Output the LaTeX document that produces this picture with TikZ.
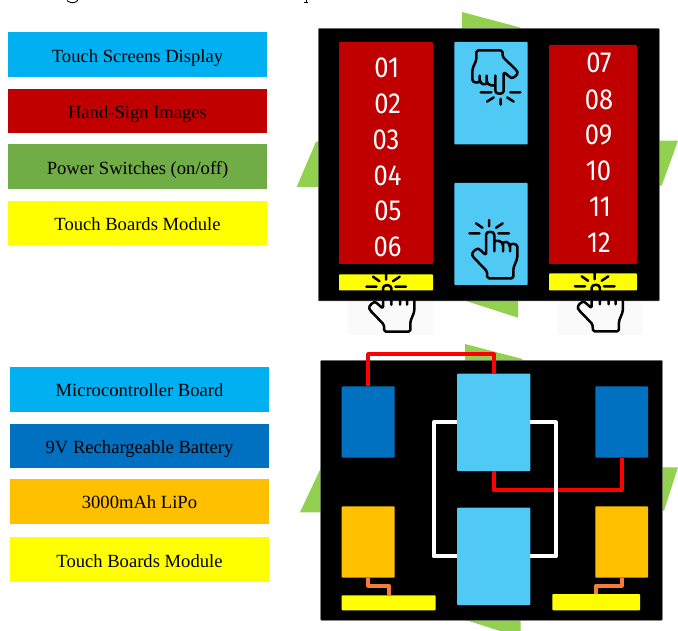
\documentclass[tikz,border=0pt]{standalone}
\usepackage{fontspec}
\setmainfont{Liberation Serif}
\newfontfamily\digitfont{Fira Sans}
\definecolor{skyc}{RGB}{0,176,240}
\definecolor{deepred}{RGB}{192,0,0}
\definecolor{leaf}{RGB}{112,173,71}
\definecolor{lime}{RGB}{146,208,80}
\definecolor{scr}{RGB}{80,201,245}
\definecolor{batt}{RGB}{0,112,192}
\definecolor{lipo}{RGB}{255,192,0}
\definecolor{wireo}{RGB}{244,123,58}
\definecolor{yel}{RGB}{255,255,0}
\definecolor{wirer}{RGB}{255,0,0}
\tikzset{
  legend/.style={draw=none,inner sep=0pt,outer sep=0pt,minimum width=259pt,minimum height=44.5pt,font=\fontsize{18.6}{20}\selectfont,text=black,text height=15pt,text depth=0pt},
  part/.style={inner sep=0pt,outer sep=0pt,rounded corners=.8pt},
  panel/.style={fill=black,draw=black!55,line width=.5pt,rounded corners=.8pt},
  wingfill/.style={fill=lime},
  num/.style={text=white,inner sep=0pt,font=\digitfont\fontsize{29}{30}\selectfont},
  wire/.style={line width=4pt,line join=round},
  handicon/.pic={
    \draw[black,line width=2.5pt,line cap=round,line join=round,rounded corners=1.6pt]
      (0,-13.3)--(0,-7) (-13,-10)--(-6.5,-5.5) (13.7,-10)--(7,-5.5)
      (-19.7,0)--(-9.5,0) (9.3,0)--(20,0)
      (5.3,18)--(5.3,3) .. controls (5.3,-2.5) and (-3,-2.5) .. (-3,3)
      --(-3,22)--(-9,16.5) .. controls (-12,14.5) and (-18,19) .. (-16,23.5)
      --(-2,38)--(-1.7,45)--(24.3,45)--(24.3,35)--(28.3,25)--(28.3,15)
      .. controls (28.3,10) and (21,9.5) .. (21,14)--(21,18)
      (21,14) .. controls (21,7.5) and (14,7.5) .. (14,12)--(14,18)
      (14,12) .. controls (14,7) and (5.3,6) .. (5.3,9);
  }
}
\begin{document}
\begin{tikzpicture}[x=1pt,y=-1pt]
\useasboundingbox (0,0) rectangle (678,631);
% cut-off line above
\draw[black,line width=.9pt] (67,.6) .. controls (70,3.6) and (76,3.4) .. (78,0);
\draw[black,line width=1pt] (306,0)--(306,2.6) (304.3,2.8)--(307.8,2.8);
% legends
\node[legend,fill=skyc] (l1) at (137.5,54.75) {Touch Screens Display};
\node[legend,fill=deepred] (l2) at (137.5,111.25) {Hand-Sign Images};
\node[legend,fill=leaf] (l3) at (137.5,166.75) {Power Switches (on/off)};
\node[legend,fill=yel] (l4) at (137.5,223.25) {Touch Boards Module};
\node[legend,fill=skyc] (l5) at (139.5,389.25) {Microcontroller Board};
\node[legend,fill=batt] (l6) at (139.5,446) {9V Rechargeable Battery};
\node[legend,fill=lipo] (l7) at (139.5,501.25) {3000mAh LiPo};
\node[legend,fill=yel] (l8) at (139.5,559.5) {Touch Boards Module};
% upper panel
\fill[wingfill] (462,12)--(520,27.5)--(522,30)--(462,30)--cycle;
\fill[wingfill] (316,141.7)--(296.7,187)--(320,187)--(320,141.7)--cycle;
\fill[wingfill] (657,140.7)--(678,140.7)--(661.7,185.7)--(657,185.7)--cycle;
\fill[wingfill] (460,299)--(518,299)--(518,317.7)--cycle;
\fill[black!2] (348,300) rectangle (432.7,335.5);
\fill[black!2] (557.7,300) rectangle (641.7,335.5);
\draw[panel] (318.3,28.5) rectangle (659.3,301);
\node[part,fill=deepred,minimum width=94pt,minimum height=222pt] (r1) at (386,153) {};
\node[part,fill=deepred,minimum width=88pt,minimum height=219pt] (r2) at (593,154.5) {};
\node[part,fill=scr,minimum width=73.4pt,minimum height=102.5pt] (s1) at (491,93.25) {};
\node[part,fill=scr,minimum width=73.4pt,minimum height=102pt] (s2) at (491,234) {};
\node[part,fill=yel,minimum width=94pt,minimum height=16.2pt] (y1) at (386,282.4) {};
\node[part,fill=yel,minimum width=88pt,minimum height=17pt] (y2) at (593,282) {};
\foreach \t/\px/\py in {01/386.7/67.7,02/387.6/103.5,03/386/139.5,04/387.6/175.5,05/388/211,06/387.5/247,
  07/599/63,08/599/99.5,09/598.5/135,10/598.5/171,11/600/207,12/599/243}
  \node[num] (n\t) at (\px,\py) {\scalebox{.88}[1]{\t}};
\pic[rotate=180,yscale=.93] at (500.7,92.3) {handicon};
\pic at (489,233.3) {handicon};
\pic at (386,286.7) {handicon};
\pic at (594.6,286.3) {handicon};
% lower panel
\fill[wingfill] (465,344)--(522.3,359)--(522.3,362)--(465,362)--cycle;
\fill[wingfill] (320.7,468.3)--(300,512.3)--(322,512.3)--(322,468.3)--cycle;
\fill[wingfill] (660,467.3)--(678,467.3)--(664,510.7)--(660,510.7)--cycle;
\fill[wingfill] (462.7,619)--(520.7,619)--(520.7,631)--(500,631)--cycle;
\draw[panel] (320.7,360.3) rectangle (662.3,620.3);
\node[part,fill=batt,minimum width=53pt,minimum height=71.4pt] (b1) at (368.2,422) {};
\node[part,fill=batt,minimum width=52.7pt,minimum height=71.4pt] (b2) at (621.65,422) {};
\node[part,fill=scr,minimum width=73.3pt,minimum height=97.3pt] (c1) at (493.65,422.35) {};
\node[part,fill=scr,minimum width=73.3pt,minimum height=97.3pt] (c2) at (493.65,556.35) {};
\node[part,fill=lipo,minimum width=53pt,minimum height=71.4pt] (o1) at (368.2,542) {};
\node[part,fill=lipo,minimum width=52.7pt,minimum height=71.4pt] (o2) at (621.65,542) {};
\node[part,fill=yel,minimum width=94pt,minimum height=15pt] (t1) at (388.7,602.8) {};
\node[part,fill=yel,minimum width=87.7pt,minimum height=16.3pt] (t2) at (596.15,602.15) {};
% wires
\draw[wire,wirer] (b1.north) -- ++(0,-32) -| (c1.north);
\draw[wire,wirer] (c1.south) -- ++(0,19) -| (b2.south);
\draw[wire,white] (c1.west) -- ++(-23.3,0) |- (c2.west);
\draw[wire,white] (c1.east) -- ++(25.4,0) |- (c2.east);
\draw[wire,wireo] (o1.south) -- ++(0,8) -| (t1.north);
\draw[wire,wireo] (o2.south) -- ++(0,8) -| (t2.north);
\end{tikzpicture}
\end{document}
